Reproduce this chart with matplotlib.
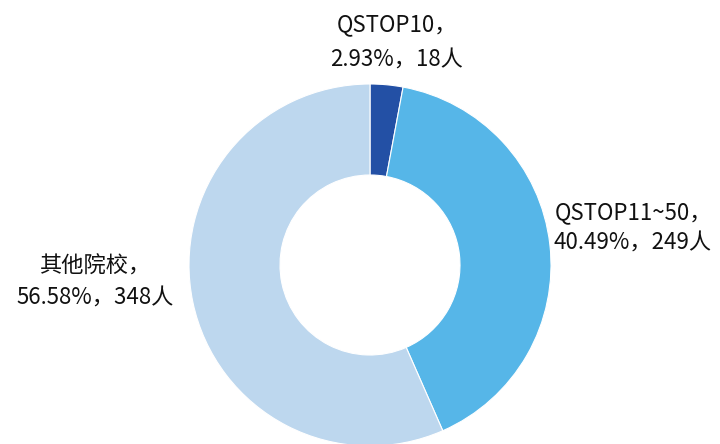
import matplotlib
matplotlib.use("Agg")
import matplotlib.pyplot as plt

plt.rcParams['font.family'] = ['Noto Sans CJK SC', 'DejaVu Sans']

categories = ["QSTOP10", "QSTOP11~50", "其他院校"]
percents = ["2.93%", "40.49%", "56.58%"]
counts = [18, 249, 348]
colors = ["#2350A5", "#56B6E8", "#BDD7EE"]

fig = plt.figure(figsize=(7.2, 4.44), dpi=100)
ax = fig.add_axes([0, 0, 1, 1])
ax.pie(counts, colors=colors, startangle=90, counterclock=False,
       center=(370, 179), radius=181,
       wedgeprops=dict(width=91, edgecolor="white", linewidth=0.8))
ax.set_xlim(0, 720)
ax.set_ylim(0, 444)
ax.set_aspect('equal')
ax.axis('off')

label_pos = [(397, 419, 384), (633, 231, 201), (95, 178, 146)]
for cat, pct, n, (x, y1, y2) in zip(categories, percents, counts, label_pos):
    ax.text(x, y1, f"{cat}，", ha='center', va='center', fontsize=16, color='#111111')
    ax.text(x, y2, f"{pct}，{n}人", ha='center', va='center', fontsize=16, color='#111111')

fig.savefig("out.png", dpi=100)
